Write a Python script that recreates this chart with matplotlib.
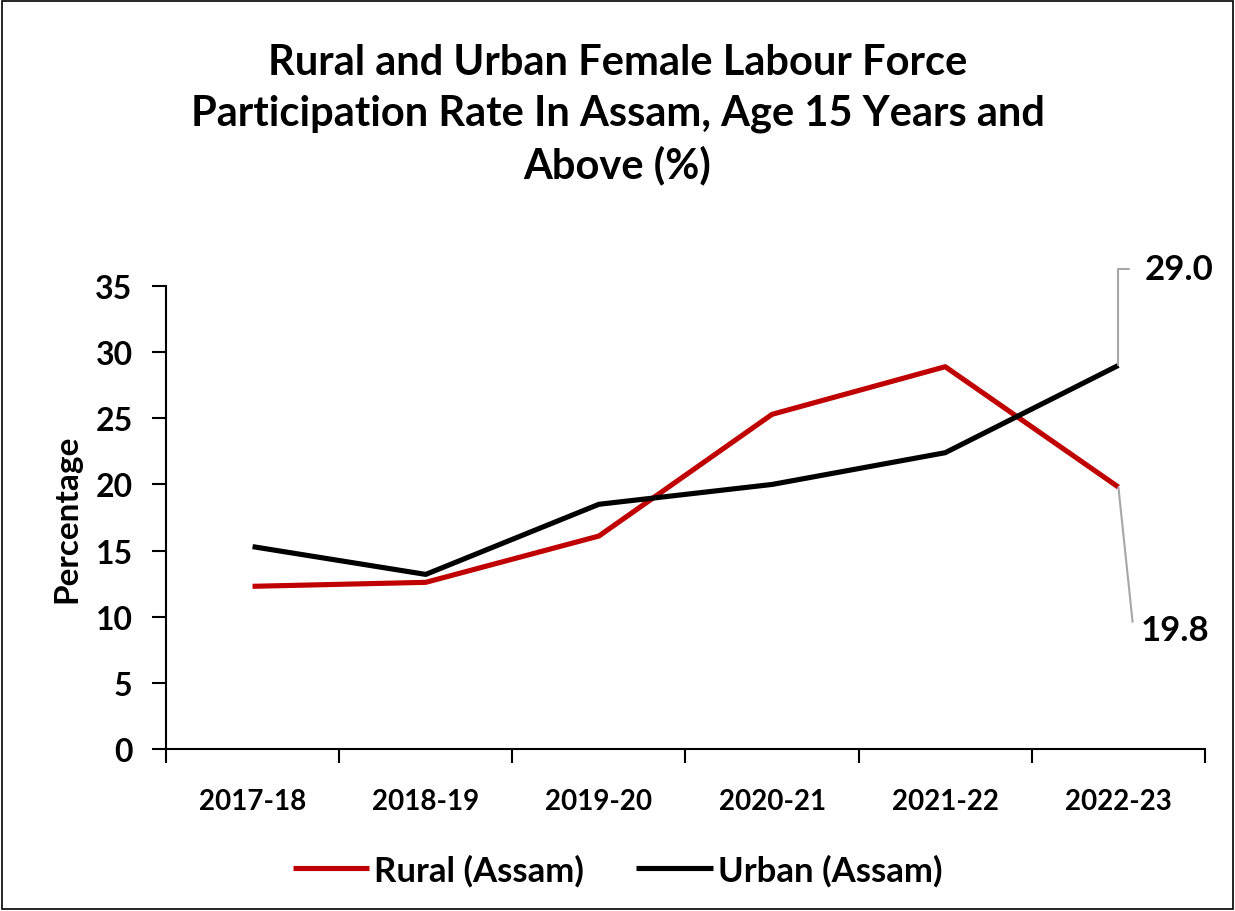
import matplotlib
matplotlib.use("Agg")
import matplotlib.pyplot as plt
from matplotlib.patches import Rectangle

plt.rcParams['font.family'] = ['Lato', 'DejaVu Sans']
plt.rcParams['font.weight'] = 'bold'

years = ["2017-18", "2018-19", "2019-20", "2020-21", "2021-22", "2022-23"]
rural = [12.3, 12.6, 16.1, 25.3, 28.9, 19.8]
urban = [15.3, 13.2, 18.5, 20.0, 22.4, 29.0]
yticks = [0, 5, 10, 15, 20, 25, 30, 35]
title = "Rural and Urban Female Labour Force\nParticipation Rate In Assam, Age 15 Years and\nAbove (%)"

fig = plt.figure(figsize=(12.35, 9.12), dpi=100)
ax = fig.add_axes([0.1344, 0.1776, 0.8413, 0.5077])

x = list(range(len(years)))
ax.plot(x, rural, color="#C00000", lw=3.7, solid_capstyle='butt', label="Rural (Assam)")
ax.plot(x, urban, color="#000000", lw=3.7, solid_capstyle='butt', label="Urban (Assam)")

ax.set_xlim(-0.5, len(years) - 0.5)
ax.set_ylim(0, 35)
ax.set_yticks(yticks)
ax.set_yticklabels([str(v) for v in yticks], fontsize=23, fontweight='bold')
ax.set_xticks(x)
ax.set_xticklabels(years, fontsize=20, fontweight='bold')
ax.tick_params(axis='x', length=0, pad=28)
ax.set_xticks([i - 0.5 for i in range(len(years) + 1)], minor=True)
ax.tick_params(axis='x', which='minor', length=10, width=1.5, direction='out')
ax.tick_params(axis='y', length=10, width=1.5, direction='out', pad=14)
for s in ['top', 'right']:
    ax.spines[s].set_visible(False)
for s in ['left', 'bottom']:
    ax.spines[s].set_linewidth(1.5)
ax.set_ylabel("Percentage", fontsize=24, fontweight='bold', labelpad=10)

# data labels with leader lines
last = len(years) - 1
ax.annotate(f"{urban[-1]:.1f}", xy=(last, urban[-1]), xytext=(0.942, 1.037),
            textcoords='axes fraction', fontsize=25, fontweight='bold', ha='left', va='center',
            annotation_clip=False,
            arrowprops=dict(arrowstyle='-', color='#A6A6A6', lw=1.5, relpos=(0, 0.5),
                            connectionstyle='angle,angleA=0,angleB=90,rad=0',
                            shrinkA=9, shrinkB=0))
ax.annotate(f"{rural[-1]:.1f}", xy=(last, rural[-1]), xytext=(0.938, 0.257),
            textcoords='axes fraction', fontsize=25, fontweight='bold', ha='left', va='center',
            annotation_clip=False,
            arrowprops=dict(arrowstyle='-', color='#A6A6A6', lw=1.5, relpos=(0, 0.5),
                            connectionstyle='angle,angleA=0,angleB=96,rad=0',
                            shrinkA=7, shrinkB=0))

fig.suptitle(title, y=0.952, fontsize=30, fontweight='bold', linespacing=1.4)

fig.legend(loc='lower center', bbox_to_anchor=(0.5, -0.007), ncol=2, frameon=False,
           prop={'size': 25, 'weight': 'bold'}, handlelength=2.2, handletextpad=0.15,
           columnspacing=1.5)

fig.patches.append(Rectangle((0.002, 0.002), 0.996, 0.996, transform=fig.transFigure,
                             fill=False, edgecolor='black', lw=1.2))

fig.savefig("out.png", dpi=100)
